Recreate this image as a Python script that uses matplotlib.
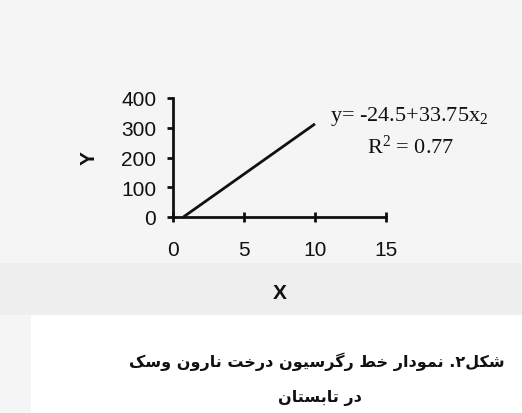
import numpy as np
import matplotlib
matplotlib.use("Agg")
import matplotlib.pyplot as plt
from matplotlib.patches import Rectangle

# data
line_x = [0.73, 10]
line_y = [0, 313]
x_ticks = [0, 5, 10, 15]
y_ticks = [0, 100, 200, 300, 400]
eq_text = "y= -24.5+33.75x$_2$"
r2_text = "R$^2$ = 0.77"
caption_1 = "شکل۲. نمودار خط رگرسیون درخت نارون وسک"
caption_2 = "در تابستان"

# arabic/persian shaping (isolated, final, initial, medial)
FORMS = {
    'ا': ('\uFE8D', '\uFE8E', None, None),
    'د': ('\uFEA9', '\uFEAA', None, None),
    'ر': ('\uFEAD', '\uFEAE', None, None),
    'و': ('\uFEED', '\uFEEE', None, None),
    'ب': ('\uFE8F', '\uFE90', '\uFE91', '\uFE92'),
    'ت': ('\uFE95', '\uFE96', '\uFE97', '\uFE98'),
    'خ': ('\uFEA5', '\uFEA6', '\uFEA7', '\uFEA8'),
    'س': ('\uFEB1', '\uFEB2', '\uFEB3', '\uFEB4'),
    'ش': ('\uFEB5', '\uFEB6', '\uFEB7', '\uFEB8'),
    'ط': ('\uFEC1', '\uFEC2', '\uFEC3', '\uFEC4'),
    'ل': ('\uFEDD', '\uFEDE', '\uFEDF', '\uFEE0'),
    'م': ('\uFEE1', '\uFEE2', '\uFEE3', '\uFEE4'),
    'ن': ('\uFEE5', '\uFEE6', '\uFEE7', '\uFEE8'),
    'ک': ('\uFB8E', '\uFB8F', '\uFB90', '\uFB91'),
    'گ': ('\uFB92', '\uFB93', '\uFB94', '\uFB95'),
    'ی': ('\uFBFC', '\uFBFD', '\uFBFE', '\uFBFF'),
}


def dual(c):
    return c in FORMS and FORMS[c][2] is not None


def shape(s):
    out = []
    for i, c in enumerate(s):
        if c not in FORMS:
            out.append(c)
            continue
        prev = s[i - 1] if i > 0 else ''
        nxt = s[i + 1] if i < len(s) - 1 else ''
        j_prev = dual(prev)
        j_next = dual(c) and nxt in FORMS
        f = FORMS[c]
        if j_prev and j_next:
            out.append(f[3])
        elif j_prev:
            out.append(f[1])
        elif j_next:
            out.append(f[2])
        else:
            out.append(f[0])
    return ''.join(out)[::-1]


plt.rcParams['font.family'] = ['Liberation Sans', 'DejaVu Sans']
plt.rcParams['mathtext.fontset'] = 'custom'
plt.rcParams['mathtext.rm'] = 'Liberation Serif'
plt.rcParams['mathtext.it'] = 'Liberation Serif'

fig = plt.figure(figsize=(5.22, 4.14), dpi=100)
fig.patch.set_facecolor('#f5f5f5')

# scan background: grey smear and white caption box, behind everything
bg = fig.add_axes([0, 0, 1, 1], zorder=-5)
bg.set_xlim(0, 522)
bg.set_ylim(414, 0)
bg.axis('off')
bg.add_patch(Rectangle((0, 264), 522, 52, facecolor='#eeeeee', edgecolor='none'))
bg.add_patch(Rectangle((31, 316), 491, 98, facecolor='white', edgecolor='none'))

ax = fig.add_axes([173 / 522, 196 / 414, 213 / 522, 119 / 414])
ax.patch.set_alpha(0)
ax.plot(line_x, line_y, color='#111111', lw=2.0, solid_capstyle='butt')

ax.set_xlim(0, 15)
ax.set_ylim(0, 400)
ax.set_xticks(x_ticks)
ax.set_yticks(y_ticks)
for s in ['top', 'right']:
    ax.spines[s].set_visible(False)
for s in ['left', 'bottom']:
    ax.spines[s].set_linewidth(2.0)
    ax.spines[s].set_color('#111111')
ax.tick_params(axis='x', direction='inout', length=7, width=2.0, pad=13,
               labelsize=15, colors='#111111')
ax.tick_params(axis='y', direction='out', length=4, width=2.0, pad=8,
               labelsize=15, colors='#111111')
ax.set_xlabel('X', fontsize=15, fontweight='bold', labelpad=17, color='#111111')
ax.set_ylabel('Y', fontsize=15, fontweight='bold', labelpad=16, color='#111111')

fig.text(330 / 522, 1 - 116 / 414, eq_text, fontsize=16, family='Liberation Serif',
         ha='left', va='center', color='#111111')
fig.text(411 / 522, 1 - 147 / 414, r2_text, fontsize=16, family='Liberation Serif',
         ha='center', va='center', color='#111111')

fig.text(505 / 522, 1 - 362 / 414, shape(caption_1), fontsize=11.5, fontweight='bold',
         family=['DejaVu Sans'], ha='right', va='center', color='#111111')
fig.text(320 / 522, 1 - 398 / 414, shape(caption_2), fontsize=11.5, fontweight='bold',
         family=['DejaVu Sans'], ha='center', va='center', color='#111111')

fig.savefig('out.png', dpi=100, facecolor=fig.get_facecolor())
